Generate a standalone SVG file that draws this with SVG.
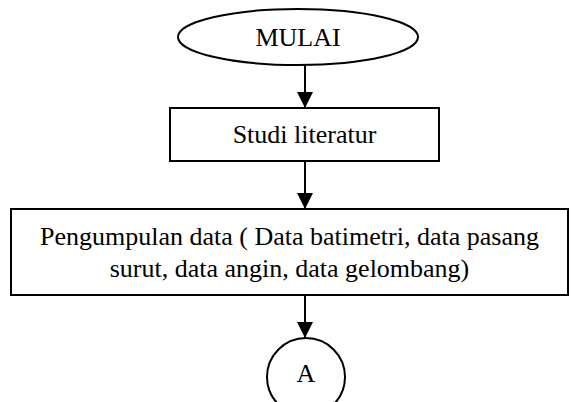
<svg xmlns="http://www.w3.org/2000/svg" width="571" height="402" viewBox="0 0 571 402">
  <style>
    .shape { fill: #ffffff; stroke: #000000; stroke-width: 2; }
    .label { font-family: "Liberation Serif", "Times New Roman", serif; font-size: 26px; fill: #000000; text-anchor: middle; }
    .link { stroke: #000000; stroke-width: 2; fill: none; marker-end: url(#arrow); }
  </style>
  <defs>
    <marker id="arrow" viewBox="0 0 16 16" refX="16" refY="8" markerWidth="16" markerHeight="16" markerUnits="userSpaceOnUse" orient="auto">
      <path d="M0,0 L16,8 L0,16 Z" fill="#000000"/>
    </marker>
  </defs>
  <rect width="571" height="402" fill="#ffffff"/>

  <g id="connectors">
    <line class="link" x1="305" y1="65" x2="305" y2="108"/>
    <line class="link" x1="305" y1="161" x2="305" y2="209"/>
    <line class="link" x1="305" y1="295" x2="305" y2="338"/>
  </g>

  <g id="start">
    <ellipse class="shape" cx="298" cy="37" rx="120" ry="28"/>
    <text class="label" x="298" y="46">MULAI</text>
  </g>

  <g id="literature">
    <rect class="shape" x="170" y="108" width="269" height="53"/>
    <text class="label" x="304.5" y="143">Studi literatur</text>
  </g>

  <g id="data-collection">
    <rect class="shape" x="11" y="209" width="557" height="86"/>
    <text class="label" x="289.5" y="245">Pengumpulan data ( Data batimetri, data pasang</text>
    <text class="label" x="289.5" y="277">surut, data angin, data gelombang)</text>
  </g>

  <g id="connector-a">
    <ellipse class="shape" cx="306" cy="377" rx="39" ry="39"/>
    <text class="label" x="306" y="382">A</text>
  </g>
</svg>
